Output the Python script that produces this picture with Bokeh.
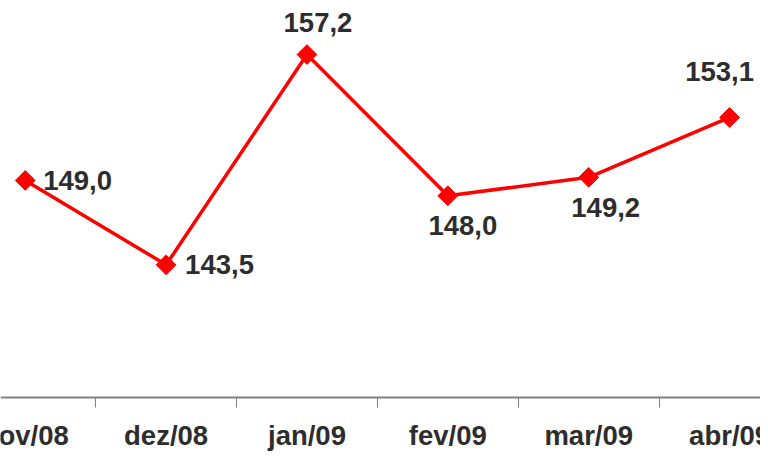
from bokeh.plotting import figure
from bokeh.models import ColumnDataSource, FixedTicker, Range1d
from bokeh.embed import file_html
from bokeh.resources import INLINE
from bokeh.core.properties import value

# ---- data ----
categories = ["nov/08", "dez/08", "jan/09", "fev/09", "mar/09", "abr/09"]
values = [149.0, 143.5, 157.2, 148.0, 149.2, 153.1]
value_labels = ["149,0", "143,5", "157,2", "148,0", "149,2", "153,1"]

# ---- label placement (styles, in screen pixels) ----
label_dx = [18, 19, 11, 15, 17, -10]
label_dy = [0, 0, -32, 30, 30, -46]
label_align = ["left", "left", "center", "center", "center", "center"]

axis_base = 134.86  # value where the category axis sits

xs = list(range(len(categories)))
bounds = [i + 0.5 for i in xs[:-1]]

src = ColumnDataSource(dict(x=xs, y=values, label=value_labels,
                            dx=label_dx, dy=label_dy, align=label_align))
cat_src = ColumnDataSource(dict(x=xs, y=[axis_base] * len(xs), label=categories))

p = figure(width=760, height=453, output_backend="svg", toolbar_location=None,
           x_range=Range1d(-0.1756, 5.2194), y_range=Range1d(131.21, 160.72),
           min_border=0)

p.line("x", "y", source=src, line_color="#ff0000", line_width=3.5)
p.scatter("x", "y", source=src, marker="square", size=14, angle=0.785398,
          fill_color="#ff0000", line_color="#ff0000")

p.text(x="x", y="y", text="label", source=src, x_offset="dx", y_offset="dy",
       text_align="align", text_baseline="middle",
       text_font=value("Liberation Sans"), text_font_style="bold",
       text_font_size="27.5px", text_color="#2d2d2d")

# category labels under the axis line
p.text(x="x", y="y", text="label", source=cat_src, y_offset=38,
       text_align="center", text_baseline="middle",
       text_font=value("Liberation Sans"), text_font_style="bold",
       text_font_size="27.5px", text_color="#2d2d2d")

ax = p.xaxis[0]
ax.fixed_location = axis_base
ax.ticker = FixedTicker(ticks=[], minor_ticks=bounds)
ax.major_tick_out = 0
ax.major_tick_in = 0
ax.minor_tick_out = 10
ax.minor_tick_in = 0
ax.minor_tick_line_color = "#808080"
ax.minor_tick_line_width = 1
ax.axis_line_color = "#808080"
ax.axis_line_width = 2
ax.major_label_text_font_size = "0px"

p.yaxis.visible = False
p.xgrid.visible = False
p.ygrid.visible = False
p.outline_line_color = None
p.background_fill_color = "white"
p.border_fill_color = "white"

open("out.html", "w").write(file_html(p, INLINE))
